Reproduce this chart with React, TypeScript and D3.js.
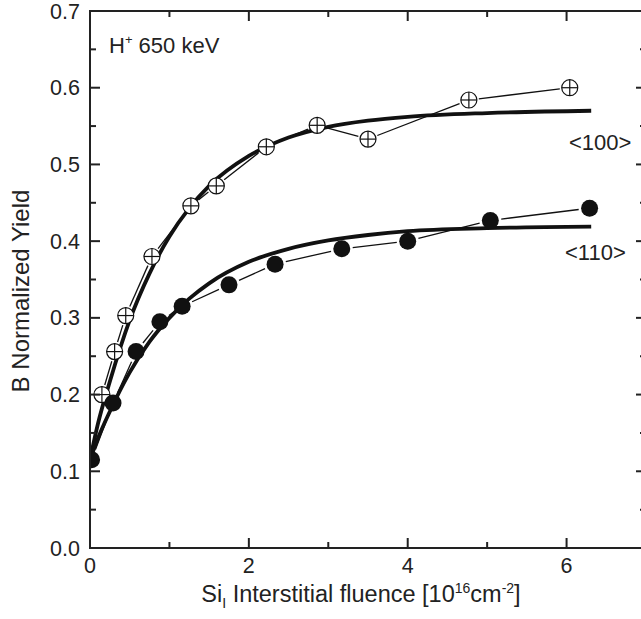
import React, { useRef, useEffect } from "react";
import * as d3 from "d3";

// measured points, <100> (open circle-plus)
const x100 = [0.15, 0.31, 0.45, 0.78, 1.27, 1.59, 2.22, 2.86, 3.5, 4.77, 6.04];
const y100 = [0.2, 0.256, 0.303, 0.38, 0.446, 0.472, 0.523, 0.551, 0.533, 0.584, 0.6];

// measured points, <110> (filled circles)
const x110 = [0.02, 0.29, 0.58, 0.88, 1.16, 1.75, 2.33, 3.17, 4.0, 5.04, 6.29];
const y110 = [0.115, 0.189, 0.256, 0.295, 0.315, 0.343, 0.37, 0.39, 0.4, 0.427, 0.443];

// fitted curves (thick lines)
const fitX = [0, 0.1, 0.25, 0.5, 0.75, 1.0, 1.25, 1.5, 2.0, 2.5, 3.0, 3.5, 4.0, 5.0, 6.31];
const fit100 = [0.115, 0.162, 0.217, 0.297, 0.358, 0.406, 0.443, 0.472, 0.511, 0.535, 0.549, 0.557, 0.562, 0.567, 0.57];
const fit110 = [0.115, 0.143, 0.178, 0.229, 0.269, 0.3, 0.325, 0.345, 0.373, 0.39, 0.401, 0.408, 0.413, 0.417, 0.419];

const xTicks = [0, 2, 4, 6];
const xMinor = [1, 3, 5];
const yTicks = [0, 0.1, 0.2, 0.3, 0.4, 0.5, 0.6, 0.7];
const yMinor = [0.05, 0.15, 0.25, 0.35, 0.45, 0.55, 0.65];

const App = () => {
  const ref = useRef(null);

  const width = 641;
  const height = 619;
  const left = 90;
  const right = 646;
  const top = 11;
  const bottom = 548;

  useEffect(() => {
    const svg = d3.select(ref.current);
    svg.selectAll("*").remove();

    const x = d3.scaleLinear().domain([0, 7]).range([left, right]);
    const y = d3.scaleLinear().domain([0, 0.7]).range([bottom, top]);
    const font = "Liberation Sans, Arial, Helvetica, sans-serif";

    svg
      .append("defs")
      .append("clipPath")
      .attr("id", "plot")
      .append("rect")
      .attr("x", left)
      .attr("y", top)
      .attr("width", right - left)
      .attr("height", bottom - top);

    const g = svg.append("g").attr("clip-path", "url(#plot)");

    // thin connecting lines with a gap round every marker
    const connect = (xs, ys, gap) => {
      for (let i = 0; i < xs.length - 1; i++) {
        const x1 = x(xs[i]), y1 = y(ys[i]);
        const x2 = x(xs[i + 1]), y2 = y(ys[i + 1]);
        const len = Math.hypot(x2 - x1, y2 - y1);
        if (len <= 2 * gap) continue;
        const ux = (x2 - x1) / len, uy = (y2 - y1) / len;
        g.append("line")
          .attr("x1", x1 + ux * gap)
          .attr("y1", y1 + uy * gap)
          .attr("x2", x2 - ux * gap)
          .attr("y2", y2 - uy * gap)
          .attr("stroke", "#111")
          .attr("stroke-width", 1.3);
      }
    };
    connect(x100, y100, 10);
    connect(x110, y110, 11);

    // fit curves
    const line = d3
      .line()
      .x((d) => x(d[0]))
      .y((d) => y(d[1]))
      .curve(d3.curveMonotoneX);
    [fit100, fit110].forEach((f) => {
      g.append("path")
        .attr("d", line(fitX.map((v, i) => [v, f[i]])))
        .attr("fill", "none")
        .attr("stroke", "#111")
        .attr("stroke-width", 3.8);
    });

    // open circle-plus markers
    const r = 8;
    x100.forEach((v, i) => {
      const cx = x(v), cy = y(y100[i]);
      const m = g.append("g").attr("stroke", "#111").attr("stroke-width", 1.2);
      m.append("circle").attr("cx", cx).attr("cy", cy).attr("r", r).attr("fill", "white");
      m.append("line").attr("x1", cx - r).attr("x2", cx + r).attr("y1", cy).attr("y2", cy);
      m.append("line").attr("x1", cx).attr("x2", cx).attr("y1", cy - r).attr("y2", cy + r);
    });

    // filled markers
    x110.forEach((v, i) => {
      g.append("circle")
        .attr("cx", x(v))
        .attr("cy", y(y110[i]))
        .attr("r", 8.5)
        .attr("fill", "#111");
    });

    // frame
    svg
      .append("rect")
      .attr("x", left)
      .attr("y", top)
      .attr("width", right - left)
      .attr("height", bottom - top)
      .attr("fill", "none")
      .attr("stroke", "#222")
      .attr("stroke-width", 2);

    // ticks, all pointing inward
    const ticks = svg.append("g").attr("stroke", "#222").attr("stroke-width", 2);
    const xt = (vals, len) =>
      vals.forEach((v) => {
        ticks.append("line").attr("x1", x(v)).attr("x2", x(v)).attr("y1", bottom).attr("y2", bottom - len);
        ticks.append("line").attr("x1", x(v)).attr("x2", x(v)).attr("y1", top).attr("y2", top + len);
      });
    const yt = (vals, len) =>
      vals.forEach((v) => {
        ticks.append("line").attr("y1", y(v)).attr("y2", y(v)).attr("x1", left).attr("x2", left + len);
        ticks.append("line").attr("y1", y(v)).attr("y2", y(v)).attr("x1", right).attr("x2", right - len);
      });
    xt(xTicks, 10);
    xt(xMinor, 6);
    yt(yTicks, 10);
    yt(yMinor, 6);

    // tick labels
    svg
      .append("g")
      .selectAll("text")
      .data(xTicks)
      .enter()
      .append("text")
      .attr("x", (d) => x(d))
      .attr("y", 573)
      .attr("text-anchor", "middle")
      .style("font-family", font)
      .style("font-size", "21.5px")
      .style("fill", "#222")
      .text((d) => d);

    svg
      .append("g")
      .selectAll("text")
      .data(yTicks)
      .enter()
      .append("text")
      .attr("x", 80)
      .attr("y", (d) => y(d) + 7.5)
      .attr("text-anchor", "end")
      .style("font-family", font)
      .style("font-size", "21.5px")
      .style("fill", "#222")
      .text((d) => d.toFixed(1));

    // axis titles
    svg
      .append("text")
      .attr("transform", "translate(29, 291) rotate(-90)")
      .attr("text-anchor", "middle")
      .style("font-family", font)
      .style("font-size", "24px")
      .style("fill", "#222")
      .text("B Normalized Yield");

    const xt2 = svg
      .append("text")
      .attr("x", 361)
      .attr("y", 602)
      .attr("text-anchor", "middle")
      .style("font-family", font)
      .style("font-size", "23.5px")
      .style("fill", "#222");
    xt2.append("tspan").text("Si");
    xt2.append("tspan").attr("dy", 6).style("font-size", "14px").text("I");
    xt2.append("tspan").attr("dy", -6).text(" Interstitial fluence [10");
    xt2.append("tspan").attr("dy", -9).style("font-size", "14px").text("16");
    xt2.append("tspan").attr("dy", 9).text("cm");
    xt2.append("tspan").attr("dy", -9).style("font-size", "14px").text("-2");
    xt2.append("tspan").attr("dy", 9).text("]");

    // annotations
    const h = svg
      .append("text")
      .attr("x", 109)
      .attr("y", 53)
      .style("font-family", font)
      .style("font-size", "22px")
      .style("fill", "#222");
    h.append("tspan").text("H");
    h.append("tspan").attr("dy", -9).style("font-size", "13px").text("+");
    h.append("tspan").attr("dy", 9).text(" 650 keV");

    svg
      .append("text")
      .attr("x", 569)
      .attr("y", 150)
      .style("font-family", font)
      .style("font-size", "22px")
      .style("fill", "#222")
      .text("<100>");
    svg
      .append("text")
      .attr("x", 565)
      .attr("y", 260)
      .style("font-family", font)
      .style("font-size", "22px")
      .style("fill", "#222")
      .text("<110>");
  }, []);

  return (
    <svg
      ref={ref}
      width={width}
      height={height}
      style={{ position: "absolute", left: 0, top: 0, background: "white" }}
    />
  );
};

export default App;
